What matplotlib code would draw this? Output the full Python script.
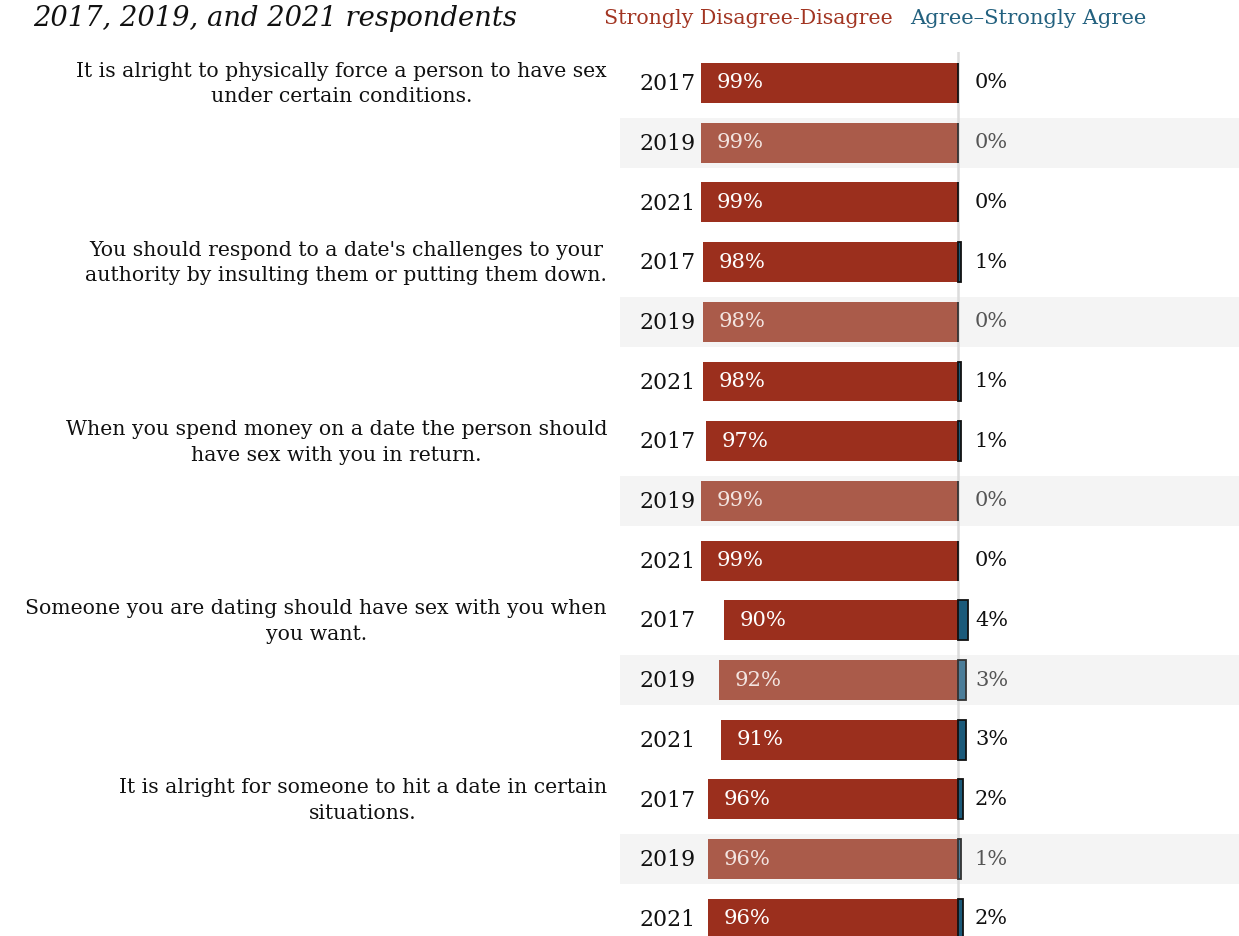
import matplotlib
matplotlib.use("Agg")
import matplotlib.pyplot as plt

plt.rcParams['font.family'] = ['DejaVu Serif']

# survey items, three waves each
questions = [
    "It is alright to physically force a person to have sex\nunder certain conditions.",
    "You should respond to a date's challenges to your\nauthority by insulting them or putting them down.",
    "When you spend money on a date the person should\nhave sex with you in return.",
    "Someone you are dating should have sex with you when\nyou want.",
    "It is alright for someone to hit a date in certain\nsituations.",
]
years = ["2017", "2019", "2021"]
disagree = [
    [99, 99, 99],
    [98, 98, 98],
    [97, 99, 99],
    [90, 92, 91],
    [96, 96, 96],
]
agree = [
    [0, 0, 0],
    [1, 0, 1],
    [1, 0, 0],
    [4, 3, 3],
    [2, 1, 2],
]

W, H = 1239, 936
RED = "#9b2f1d"
RED_LIGHT = "#aa5b4a"
BLUE = "#1b5a7a"
BLUE_LIGHT = "#4b7d99"

fig = plt.figure(figsize=(W / 100, H / 100), dpi=100)

def px(x, y):
    return x / W, 1 - y / H

# bar panel: x in percent, one row per question/year
top, bottom = 52, 936
left, right = 620, 1239
ax = fig.add_axes([left / W, 1 - bottom / H, (right - left) / W, (bottom - top) / H])
scale = 2.6  # px per percent
ax.set_xlim(-(958 - left) / scale, (right - 958) / scale)
step = 59.7
ax.set_ylim((bottom - 83) / step, (top - 83) / step)
ax.axis("off")

ax.axvline(0, color="#dcdcdc", lw=1.8, zorder=1)

row = 0
for qi, q in enumerate(questions):
    x0, y0 = px(607, 84 + step * row)
    fig.text(x0, y0, q, ha="right", va="center", multialignment="center",
             fontsize=14.7, color="#111111", linespacing=1.45)
    for yi, yr in enumerate(years):
        d = disagree[qi][yi]
        a = agree[qi][yi]
        mid = yi == 1
        if mid:
            ax.axhspan(row - 0.42, row + 0.42, color="#f4f4f4", lw=0, zorder=0)
        ax.barh(row, -d, left=0, height=0.67, color=RED_LIGHT if mid else RED,
                edgecolor="none", zorder=2)
        ax.barh(row, a, left=0, height=0.67, color=BLUE_LIGHT if mid else BLUE,
                edgecolor="#333333" if mid else "#111111", lw=1.3, zorder=3)
        ax.text(-101, row + 0.02, yr, ha="right", va="center", fontsize=15.8,
                color="#111111")
        ax.text(-d + 6, row, f"{d}%", ha="left", va="center", fontsize=15.2,
                color="#f3e4e0" if mid else "white", zorder=4)
        ax.text(6.5, row, f"{a}%", ha="left", va="center", fontsize=15,
                color="#555555" if mid else "#111111")
        row += 1

# heading and legend
fig.text(*px(33, 18), "2017, 2019, and 2021 respondents", ha="left", va="center",
         fontsize=19.7, style="italic", color="#111111")
fig.text(*px(604, 19), "Strongly Disagree-Disagree", ha="left", va="center",
         fontsize=14.8, color="#a23522")
fig.text(*px(910, 19), "Agree\u2013Strongly Agree", ha="left", va="center",
         fontsize=15.2, color="#23617f")

fig.savefig("out.png", dpi=100)
